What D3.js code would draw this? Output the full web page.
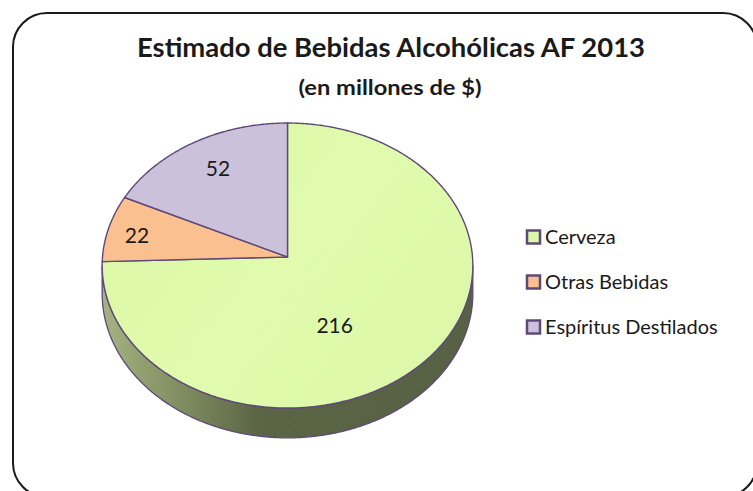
<!DOCTYPE html>
<html>
<head>
<meta charset="utf-8">
<script src="https://cdn.jsdelivr.net/npm/d3@7"></script>
<style>
  html, body { margin: 0; padding: 0; background: #ffffff; }
  svg { display: block; }
  text { font-family: Lato, "Open Sans", sans-serif; fill: #1a1a1a; }
</style>
</head>
<body>
<svg id="chart" width="753" height="491"></svg>
<script>
// ---- data ----
const categories = ["Cerveza", "Otras Bebidas", "Espíritus Destilados"];
const values = [216, 22, 52];
const colors = ["#dcf8a8", "#fac08f", "#ccc1da"];
const titleText = "Estimado de Bebidas Alcohólicas AF 2013";
const subtitleText = "(en millones de $)";

// ---- layout ----
const svg = d3.select("#chart");
const outline = "#5f497a";

// frame
svg.append("rect")
  .attr("x", 13).attr("y", 13).attr("width", 744).attr("height", 484)
  .attr("rx", 34).attr("ry", 34)
  .attr("fill", "#fff").attr("stroke", "#1a1a1a").attr("stroke-width", 2);

// 3D perspective projection of the pie
const cx = 287.5, cy = 257, r = 185, s = 142, p = 0.06, depth = 28;
function proj(a, k, dz) {
  const X = Math.sin(a) * k, Z = Math.cos(a) * k;
  const den = 1 + p * Z;
  return [cx + r * X / den, cy - s * Z / den + depth * dz / den];
}
function arcPts(a0, a1, k, dz) {
  const n = Math.max(2, Math.ceil(Math.abs(a1 - a0) / 0.01));
  return d3.range(n + 1).map(i => proj(a0 + (a1 - a0) * i / n, k, dz));
}

const pie = d3.pie().sort(null).startAngle(0).endAngle(2 * Math.PI);
const arcs = pie(values);

const defs = svg.append("defs");
const sideGrad = defs.append("linearGradient").attr("id", "sideGrad")
  .attr("gradientUnits", "userSpaceOnUse")
  .attr("x1", cx - r).attr("x2", cx + r).attr("y1", 0).attr("y2", 0);
sideGrad.append("stop").attr("offset", 0).attr("stop-color", "#a4b380");
sideGrad.append("stop").attr("offset", 0.22).attr("stop-color", "#7f8c60");
sideGrad.append("stop").attr("offset", 0.42).attr("stop-color", "#5b6546");
sideGrad.append("stop").attr("offset", 1).attr("stop-color", "#576143");

const topGrad = defs.append("linearGradient").attr("id", "topGrad0")
  .attr("gradientUnits", "userSpaceOnUse")
  .attr("x1", cx - r).attr("y1", cy - s).attr("x2", cx + r).attr("y2", cy + s);
topGrad.append("stop").attr("offset", 0).attr("stop-color", "#d9f6a4");
topGrad.append("stop").attr("offset", 0.5).attr("stop-color", "#e0fbad");
topGrad.append("stop").attr("offset", 1).attr("stop-color", "#daf7a6");

// side wall (visible front part)
const aVis0 = Math.acos(-p), aVis1 = 2 * Math.PI - Math.acos(-p);
arcs.forEach((d, i) => {
  const a0 = Math.max(d.startAngle, aVis0), a1 = Math.min(d.endAngle, aVis1);
  if (a1 <= a0) return;
  const pts = arcPts(a0, a1, 1, 0).concat(arcPts(a1, a0, 1, 1));
  svg.append("path")
    .attr("d", d3.line()(pts) + "Z")
    .attr("fill", i === 0 ? "url(#sideGrad)" : d3.color(colors[i]).darker(1.2))
    .attr("stroke", outline).attr("stroke-width", 1.3).attr("stroke-linejoin", "round");
});

// top faces
arcs.forEach((d, i) => {
  const pts = [proj(0, 0, 0)].concat(arcPts(d.startAngle, d.endAngle, 1, 0));
  svg.append("path")
    .attr("d", d3.line()(pts) + "Z")
    .attr("fill", i === 0 ? "url(#topGrad0)" : colors[i])
    .attr("stroke", outline).attr("stroke-width", 1.4).attr("stroke-linejoin", "round");
});

// data labels
const labelPos = [[0.35, 0.67], [0.84, 0.76], [0.73, 0.77]];
arcs.forEach((d, i) => {
  const mid = (d.startAngle + d.endAngle) / 2;
  const px = proj(mid, labelPos[i][0], 0)[0];
  const py = proj(mid, labelPos[i][1], 0)[1];
  svg.append("text")
    .attr("x", px).attr("y", py).attr("dy", "0.36em")
    .attr("text-anchor", "middle")
    .attr("font-size", 21)
    .text(values[i]);
});

// title
svg.append("text")
  .attr("x", 391).attr("y", 57)
  .attr("text-anchor", "middle")
  .attr("font-size", 27).attr("font-weight", "bold")
  .attr("textLength", 508).attr("lengthAdjust", "spacingAndGlyphs")
  .text(titleText);
svg.append("text")
  .attr("x", 390).attr("y", 95)
  .attr("text-anchor", "middle")
  .attr("font-size", 20).attr("font-weight", "bold")
  .attr("textLength", 183).attr("lengthAdjust", "spacingAndGlyphs")
  .text(subtitleText);

// legend
const legY = d3.scalePoint().domain(categories).range([237, 327]);
const leg = svg.append("g");
categories.forEach((c, i) => {
  const y = legY(c);
  leg.append("rect")
    .attr("x", 527).attr("y", y - 6.5).attr("width", 13).attr("height", 13)
    .attr("fill", colors[i]).attr("stroke", outline).attr("stroke-width", 2.5);
  leg.append("text")
    .attr("x", 545).attr("y", y).attr("dy", "0.36em")
    .attr("font-size", 20)
    .text(c);
});
</script>
</body>
</html>
